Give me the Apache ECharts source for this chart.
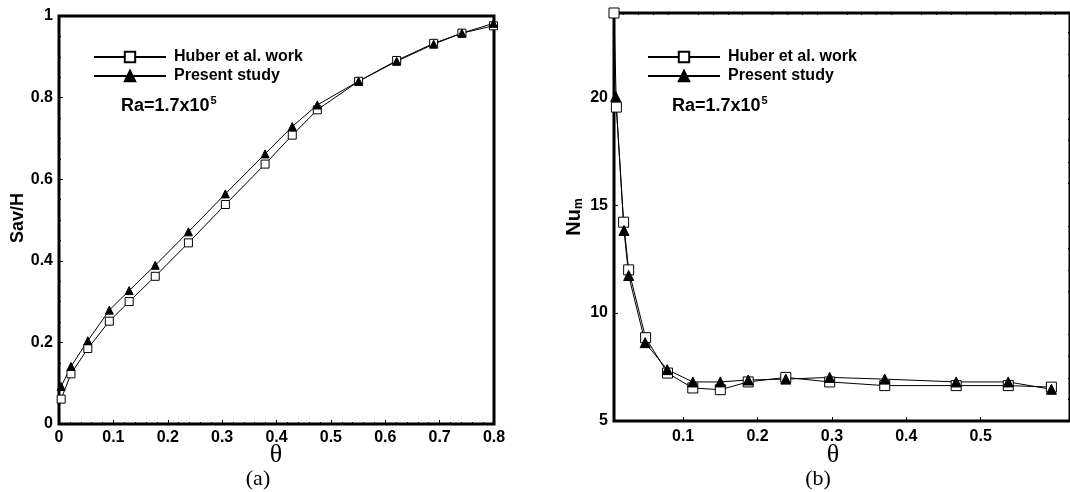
<!DOCTYPE html>
<html>
<head>
<meta charset="utf-8">
<script src="https://cdn.jsdelivr.net/npm/echarts@6/dist/echarts.min.js"></script>
<style>
  html, body { margin: 0; padding: 0; background: #fff; }
  #chart { width: 1070px; height: 492px; }
</style>
</head>
<body>
<div id="chart"></div>
<script>
// (a) Sav/H vs theta
const thetaA = [0.004, 0.022, 0.053, 0.0925, 0.129, 0.177, 0.238, 0.306, 0.379, 0.429, 0.475, 0.551, 0.621, 0.689, 0.741, 0.799];
const savHuber = [0.061, 0.123, 0.185, 0.252, 0.300, 0.362, 0.444, 0.538, 0.637, 0.708, 0.770, 0.840, 0.891, 0.933, 0.958, 0.976];
const savPresent = [0.092, 0.141, 0.204, 0.279, 0.327, 0.389, 0.471, 0.564, 0.662, 0.729, 0.782, 0.840, 0.889, 0.931, 0.958, 0.982];

// (b) Nu_m vs theta
const thetaHuberB = [0.0071, 0.0103, 0.020, 0.0268, 0.0496, 0.079, 0.113, 0.150, 0.1875, 0.238, 0.297, 0.371, 0.467, 0.537, 0.595];
const nuHuber = [23.9, 19.54, 14.21, 12.0, 8.86, 7.22, 6.53, 6.45, 6.81, 7.02, 6.81, 6.64, 6.64, 6.64, 6.57];
const thetaPresentB = [0.0094, 0.0205, 0.0268, 0.049, 0.0786, 0.113, 0.150, 0.1875, 0.238, 0.297, 0.371, 0.467, 0.537, 0.595];
const nuPresent = [20.03, 13.83, 11.74, 8.63, 7.38, 6.81, 6.81, 6.9, 6.94, 7.02, 6.94, 6.81, 6.81, 6.47];

// tick positions for plot (b), whose axes do not start on a round value
const xMajorB = [0.1, 0.2, 0.3, 0.4, 0.5];
const xMinorB = [0.02, 0.04, 0.06, 0.08, 0.12, 0.14, 0.16, 0.18, 0.22, 0.24, 0.26, 0.28,
  0.32, 0.34, 0.36, 0.38, 0.42, 0.44, 0.46, 0.48, 0.52, 0.54, 0.56, 0.58, 0.6];
const yMajorB = [5, 10, 15, 20];
const yMinorB = [6, 7, 8, 9, 11, 12, 13, 14, 16, 17, 18, 19, 21, 22, 23];

const names = ["Huber et al. work", "Present study"];

const zip = (xs, ys) => xs.map((x, i) => [x, ys[i]]);

const labelFont = { color: "#000", fontSize: 16, fontWeight: "bold", fontFamily: "Liberation Sans, Arial" };

const chart = echarts.init(document.getElementById("chart"));

const squareStyle = { color: "#fff", borderColor: "#000", borderWidth: 1 };
const triStyle = { color: "#000", borderColor: "#000", borderWidth: 1 };

const raText = (x) => ({
  type: "text", x: x, y: 106,
  style: {
    text: "{a|Ra=1.7x10}{s|5}", textVerticalAlign: "middle",
    rich: {
      a: { fontSize: 18, fontWeight: "bold", fontFamily: "Liberation Sans", color: "#000" },
      s: { fontSize: 11, fontWeight: "bold", fontFamily: "Liberation Sans", color: "#000", padding: [0, 0, 10, 1] },
    },
  },
});

const legendAt = (x) => ({
  left: x, top: 44, orient: "vertical", itemWidth: 72, itemHeight: 13, itemGap: 3,
  data: names,
  textStyle: { ...labelFont, padding: [0, 0, 0, 3] },
});

const option = {
  backgroundColor: "#fff",
  animation: false,
  grid: [
    { left: 59, right: 576, top: 16, bottom: 68, show: true, borderColor: "#000", borderWidth: 3 },
    { left: 614, right: -3, top: 13, bottom: 71, show: true, borderColor: "#000", borderWidth: 3 },
  ],
  legend: [legendAt(88), legendAt(642)],
  xAxis: [
    {
      gridIndex: 0, type: "value", min: 0, max: 0.8, interval: 0.1,
      axisLine: { show: false },
      axisTick: { inside: true, length: 4, lineStyle: { color: "#000" } },
      minorTick: { show: true, splitNumber: 5, length: 2, lineStyle: { color: "#000" } },
      splitLine: { show: false },
      axisLabel: { ...labelFont, margin: 6 },
    },
    {
      gridIndex: 1, type: "value", min: 0.0071, max: 0.62,
      axisLine: { show: false },
      axisTick: { inside: true, length: 4, customValues: xMajorB, lineStyle: { color: "#000" } },
      splitLine: { show: false },
      axisLabel: { ...labelFont, margin: 8, customValues: xMajorB },
    },
    {
      gridIndex: 1, type: "value", min: 0.0071, max: 0.62,
      axisLine: { show: false },
      axisTick: { inside: true, length: 2, customValues: xMinorB, lineStyle: { color: "#000" } },
      splitLine: { show: false },
      axisLabel: { show: false },
    },
  ],
  yAxis: [
    {
      gridIndex: 0, type: "value", min: 0, max: 1, interval: 0.2,
      axisLine: { show: false },
      axisTick: { inside: true, length: 4, lineStyle: { color: "#000" } },
      minorTick: { show: true, splitNumber: 4, length: 2, lineStyle: { color: "#000" } },
      splitLine: { show: false },
      axisLabel: { ...labelFont, margin: 6 },
    },
    {
      gridIndex: 1, type: "value", min: 5, max: 23.9,
      axisLine: { show: false },
      axisTick: { inside: true, length: 4, customValues: yMajorB, lineStyle: { color: "#000" } },
      splitLine: { show: false },
      axisLabel: { ...labelFont, margin: 6, customValues: yMajorB },
    },
    {
      gridIndex: 1, type: "value", min: 5, max: 23.9,
      axisLine: { show: false },
      axisTick: { inside: true, length: 2, customValues: yMinorB, lineStyle: { color: "#000" } },
      splitLine: { show: false },
      axisLabel: { show: false },
    },
  ],
  series: [
    {
      name: names[0], type: "line", xAxisIndex: 0, yAxisIndex: 0,
      data: zip(thetaA, savHuber),
      symbol: "rect", symbolSize: 8, showAllSymbol: true,
      itemStyle: squareStyle, lineStyle: { color: "#000", width: 1 },
    },
    {
      name: names[1], type: "line", xAxisIndex: 0, yAxisIndex: 0,
      data: zip(thetaA, savPresent),
      symbol: "triangle", symbolSize: 8, showAllSymbol: true,
      itemStyle: triStyle, lineStyle: { color: "#000", width: 1 },
    },
    {
      name: names[0], type: "line", xAxisIndex: 1, yAxisIndex: 1,
      data: zip(thetaHuberB, nuHuber),
      symbol: "rect", symbolSize: 10, showAllSymbol: true, clip: false,
      itemStyle: squareStyle, lineStyle: { color: "#000", width: 1 },
    },
    {
      name: names[1], type: "line", xAxisIndex: 1, yAxisIndex: 1,
      data: zip(thetaPresentB, nuPresent),
      symbol: "triangle", symbolSize: 10, showAllSymbol: true,
      itemStyle: triStyle, lineStyle: { color: "#000", width: 1 },
    },
  ],
  graphic: [
    { type: "text", x: 276, y: 455, style: { text: "θ", font: "26px 'Liberation Serif'", fill: "#000", textAlign: "center", textVerticalAlign: "middle" } },
    { type: "text", x: 258, y: 479, style: { text: "(a)", font: "22px 'Liberation Serif'", fill: "#000", textAlign: "center", textVerticalAlign: "middle" } },
    { type: "text", x: 833, y: 455, style: { text: "θ", font: "26px 'Liberation Serif'", fill: "#000", textAlign: "center", textVerticalAlign: "middle" } },
    { type: "text", x: 818, y: 479, style: { text: "(b)", font: "22px 'Liberation Serif'", fill: "#000", textAlign: "center", textVerticalAlign: "middle" } },
    { type: "text", x: 18, y: 218, rotation: Math.PI / 2,
      style: { text: "Sav/H", font: "bold 18px 'Liberation Sans'", fill: "#000", textAlign: "center", textVerticalAlign: "middle" } },
    { type: "text", x: 574, y: 217, rotation: Math.PI / 2,
      style: {
        text: "{a|Nu}{b|m}", textAlign: "center", textVerticalAlign: "middle",
        rich: {
          a: { fontSize: 20, fontWeight: "bold", fontFamily: "Liberation Sans", color: "#000" },
          b: { fontSize: 12, fontWeight: "bold", fontFamily: "Liberation Sans", color: "#000", padding: [9, 0, 0, 0] },
        },
      } },
    raText(121),
    raText(672),
  ],
};

chart.setOption(option);
</script>
</body>
</html>
